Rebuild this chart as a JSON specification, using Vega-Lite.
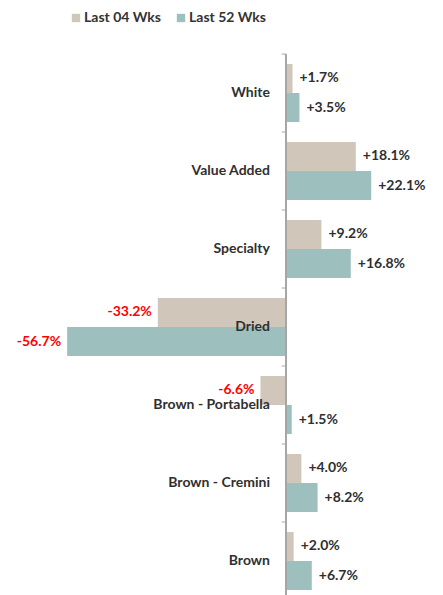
{
  "$schema": "https://vega.github.io/schema/vega-lite/v6.json",
  "width": 443,
  "height": 546,
  "autosize": "none",
  "padding": {"left": 0, "top": 54, "right": 0, "bottom": 0},
  "background": "white",
  "config": {"view": {"stroke": null}, "font": "Lato"},
  "data": {"values": [
    {"category": "White", "series": "Last 04 Wks", "value": 1.7, "label": "+1.7%"},
    {"category": "White", "series": "Last 52 Wks", "value": 3.5, "label": "+3.5%"},
    {"category": "Value Added", "series": "Last 04 Wks", "value": 18.1, "label": "+18.1%"},
    {"category": "Value Added", "series": "Last 52 Wks", "value": 22.1, "label": "+22.1%"},
    {"category": "Specialty", "series": "Last 04 Wks", "value": 9.2, "label": "+9.2%"},
    {"category": "Specialty", "series": "Last 52 Wks", "value": 16.8, "label": "+16.8%"},
    {"category": "Dried", "series": "Last 04 Wks", "value": -33.2, "label": "-33.2%"},
    {"category": "Dried", "series": "Last 52 Wks", "value": -56.7, "label": "-56.7%"},
    {"category": "Brown - Portabella", "series": "Last 04 Wks", "value": -6.6, "label": "-6.6%"},
    {"category": "Brown - Portabella", "series": "Last 52 Wks", "value": 1.5, "label": "+1.5%"},
    {"category": "Brown - Cremini", "series": "Last 04 Wks", "value": 4.0, "label": "+4.0%"},
    {"category": "Brown - Cremini", "series": "Last 52 Wks", "value": 8.2, "label": "+8.2%"},
    {"category": "Brown", "series": "Last 04 Wks", "value": 2.0, "label": "+2.0%"},
    {"category": "Brown", "series": "Last 52 Wks", "value": 6.7, "label": "+6.7%"}
  ]},
  "encoding": {
    "y": {"field": "category", "type": "nominal", "sort": null,
          "scale": {"paddingInner": 0.256, "paddingOuter": 0.128}, "axis": null}
  },
  "layer": [
    {
      "mark": {"type": "bar"},
      "encoding": {
        "x": {"field": "value", "type": "quantitative",
              "scale": {"domain": [-74.1, 40.7], "nice": false, "zero": false}, "axis": null},
        "yOffset": {"field": "series", "type": "nominal", "sort": ["Last 04 Wks", "Last 52 Wks"]},
        "color": {"field": "series", "type": "nominal",
                  "scale": {"domain": ["Last 04 Wks", "Last 52 Wks"], "range": ["#D0C6B9", "#9DBFBE"]},
                  "legend": {"title": null, "orient": "none", "direction": "horizontal",
                             "legendX": 69, "legendY": -43, "padding": 0,
                             "symbolType": "square", "symbolSize": 70, "symbolStrokeWidth": 0,
                             "labelFont": "Lato", "labelFontSize": 14, "labelFontWeight": "bold",
                             "labelColor": "#333333", "labelOffset": 1, "columnPadding": 12}}
      }
    },
    {
      "mark": {"type": "rule", "color": "#A6A6A6", "strokeWidth": 1},
      "encoding": {"x": {"datum": 0, "type": "quantitative"}, "y": null}
    },
    {
      "transform": [{"filter": "datum.series === 'Last 04 Wks'"}],
      "mark": {"type": "rule", "color": "#A6A6A6", "strokeWidth": 1},
      "encoding": {
        "x": {"datum": -1.1, "type": "quantitative"},
        "x2": {"datum": 0},
        "y": {"field": "category", "type": "nominal", "sort": null, "bandPosition": -0.172}
      }
    },
    {
      "mark": {"type": "text", "align": "right", "baseline": "middle", "dx": -16,
               "fontSize": 14, "fontWeight": "bold", "color": "#2F2F2F"},
      "encoding": {
        "x": {"datum": 0, "type": "quantitative"},
        "text": {"field": "category"}
      },
      "transform": [{"filter": "datum.series === 'Last 04 Wks'"}]
    },
    {
      "transform": [{"filter": "datum.value >= 0"}],
      "mark": {"type": "text", "align": "left", "baseline": "middle", "dx": 7,
               "fontSize": 14, "fontWeight": "bold", "color": "#2F2F2F"},
      "encoding": {
        "x": {"field": "value", "type": "quantitative"},
        "yOffset": {"field": "series", "type": "nominal", "sort": ["Last 04 Wks", "Last 52 Wks"]},
        "text": {"field": "label"}
      }
    },
    {
      "transform": [{"filter": "datum.value < 0"}],
      "mark": {"type": "text", "align": "right", "baseline": "middle", "dx": -6,
               "fontSize": 14, "fontWeight": "bold", "color": "#FF0000"},
      "encoding": {
        "x": {"field": "value", "type": "quantitative"},
        "yOffset": {"field": "series", "type": "nominal", "sort": ["Last 04 Wks", "Last 52 Wks"]},
        "text": {"field": "label"}
      }
    }
  ]
}
